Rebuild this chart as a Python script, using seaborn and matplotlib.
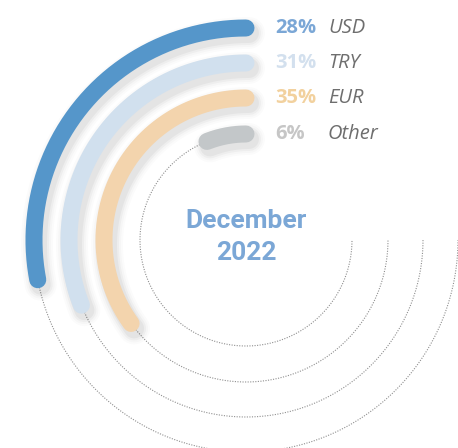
import numpy as np
import seaborn as sns
import matplotlib.pyplot as plt
from matplotlib import transforms

# data
labels = ['USD', 'TRY', 'EUR', 'Other']
shares = [28, 31, 35, 6]
ring_colors = ['#5596CA', '#D1E0EE', '#F3D4AD', '#C3C7C9']
pct_colors = ['#7BA7D6', '#D3E0EE', '#F2D19E', '#C6C6C6']
title_text = 'December\n2022'

sns.set_theme(style='white')
plt.rcParams['font.family'] = ['Open Sans', 'DejaVu Sans']

W, H = 458, 448
fig = plt.figure(figsize=(W / 100, H / 100), dpi=100)

# polar axes laid out in pixels: centre at (246, 240 from top), radius 230 px
cx, cy, R = 246, H - 240, 230
ax = fig.add_axes([(cx - R) / W, (cy - R) / H, 2 * R / W, 2 * R / H], projection='polar')
ax.set_theta_zero_location('N')
ax.set_theta_direction(1)
ax.set_ylim(0, R)
ax.axis('off')

radii = [212, 177, 142, 106]
track_end = 0.75 * 2 * np.pi  # tracks run three quarters of the way round

shadow = transforms.offset_copy(ax.transData, fig=fig, x=3, y=-5, units='dots')

for lab, val, r, col, pcol in zip(labels, shares, radii, ring_colors, pct_colors):
    end = val / 100 * 2 * np.pi
    # dotted track for the remainder
    t_track = np.linspace(end, track_end, 300)
    ax.plot(t_track, np.full_like(t_track, r), color='#8f8f8f', lw=0.8,
            linestyle=(0, (1, 1.3)), zorder=1)
    # soft shadow
    t = np.linspace(0, end, 300)
    for lw, a in [(32, 0.015), (28, 0.02), (24, 0.03), (20, 0.04)]:
        ax.plot(t, np.full_like(t, r), color='black', lw=lw * 0.72, alpha=a,
                solid_capstyle='round', transform=shadow, zorder=2)
    ax.plot(t, np.full_like(t, r), color=col, lw=17 * 0.72,
            solid_capstyle='round', zorder=3)
    # labels to the right of each ring start
    ax.annotate(f'{val}%', xy=(0, r), xytext=(29, 0), textcoords='offset pixels',
                ha='left', va='center', fontsize=14.5, fontweight='bold', color=pcol,
                annotation_clip=False)
    ax.annotate(lab, xy=(0, r), xytext=(82, 0), textcoords='offset pixels',
                ha='left', va='center', fontsize=14.5, fontstyle='italic', color='#6e6e6e',
                annotation_clip=False)

ax.annotate(title_text, xy=(0, 0), xytext=(0, 3), textcoords='offset pixels',
            ha='center', va='center', fontsize=19, fontweight='bold', color='#7BA7D6',
            family=['Roboto', 'DejaVu Sans'], linespacing=1.38)

fig.savefig('out.png', dpi=100)
